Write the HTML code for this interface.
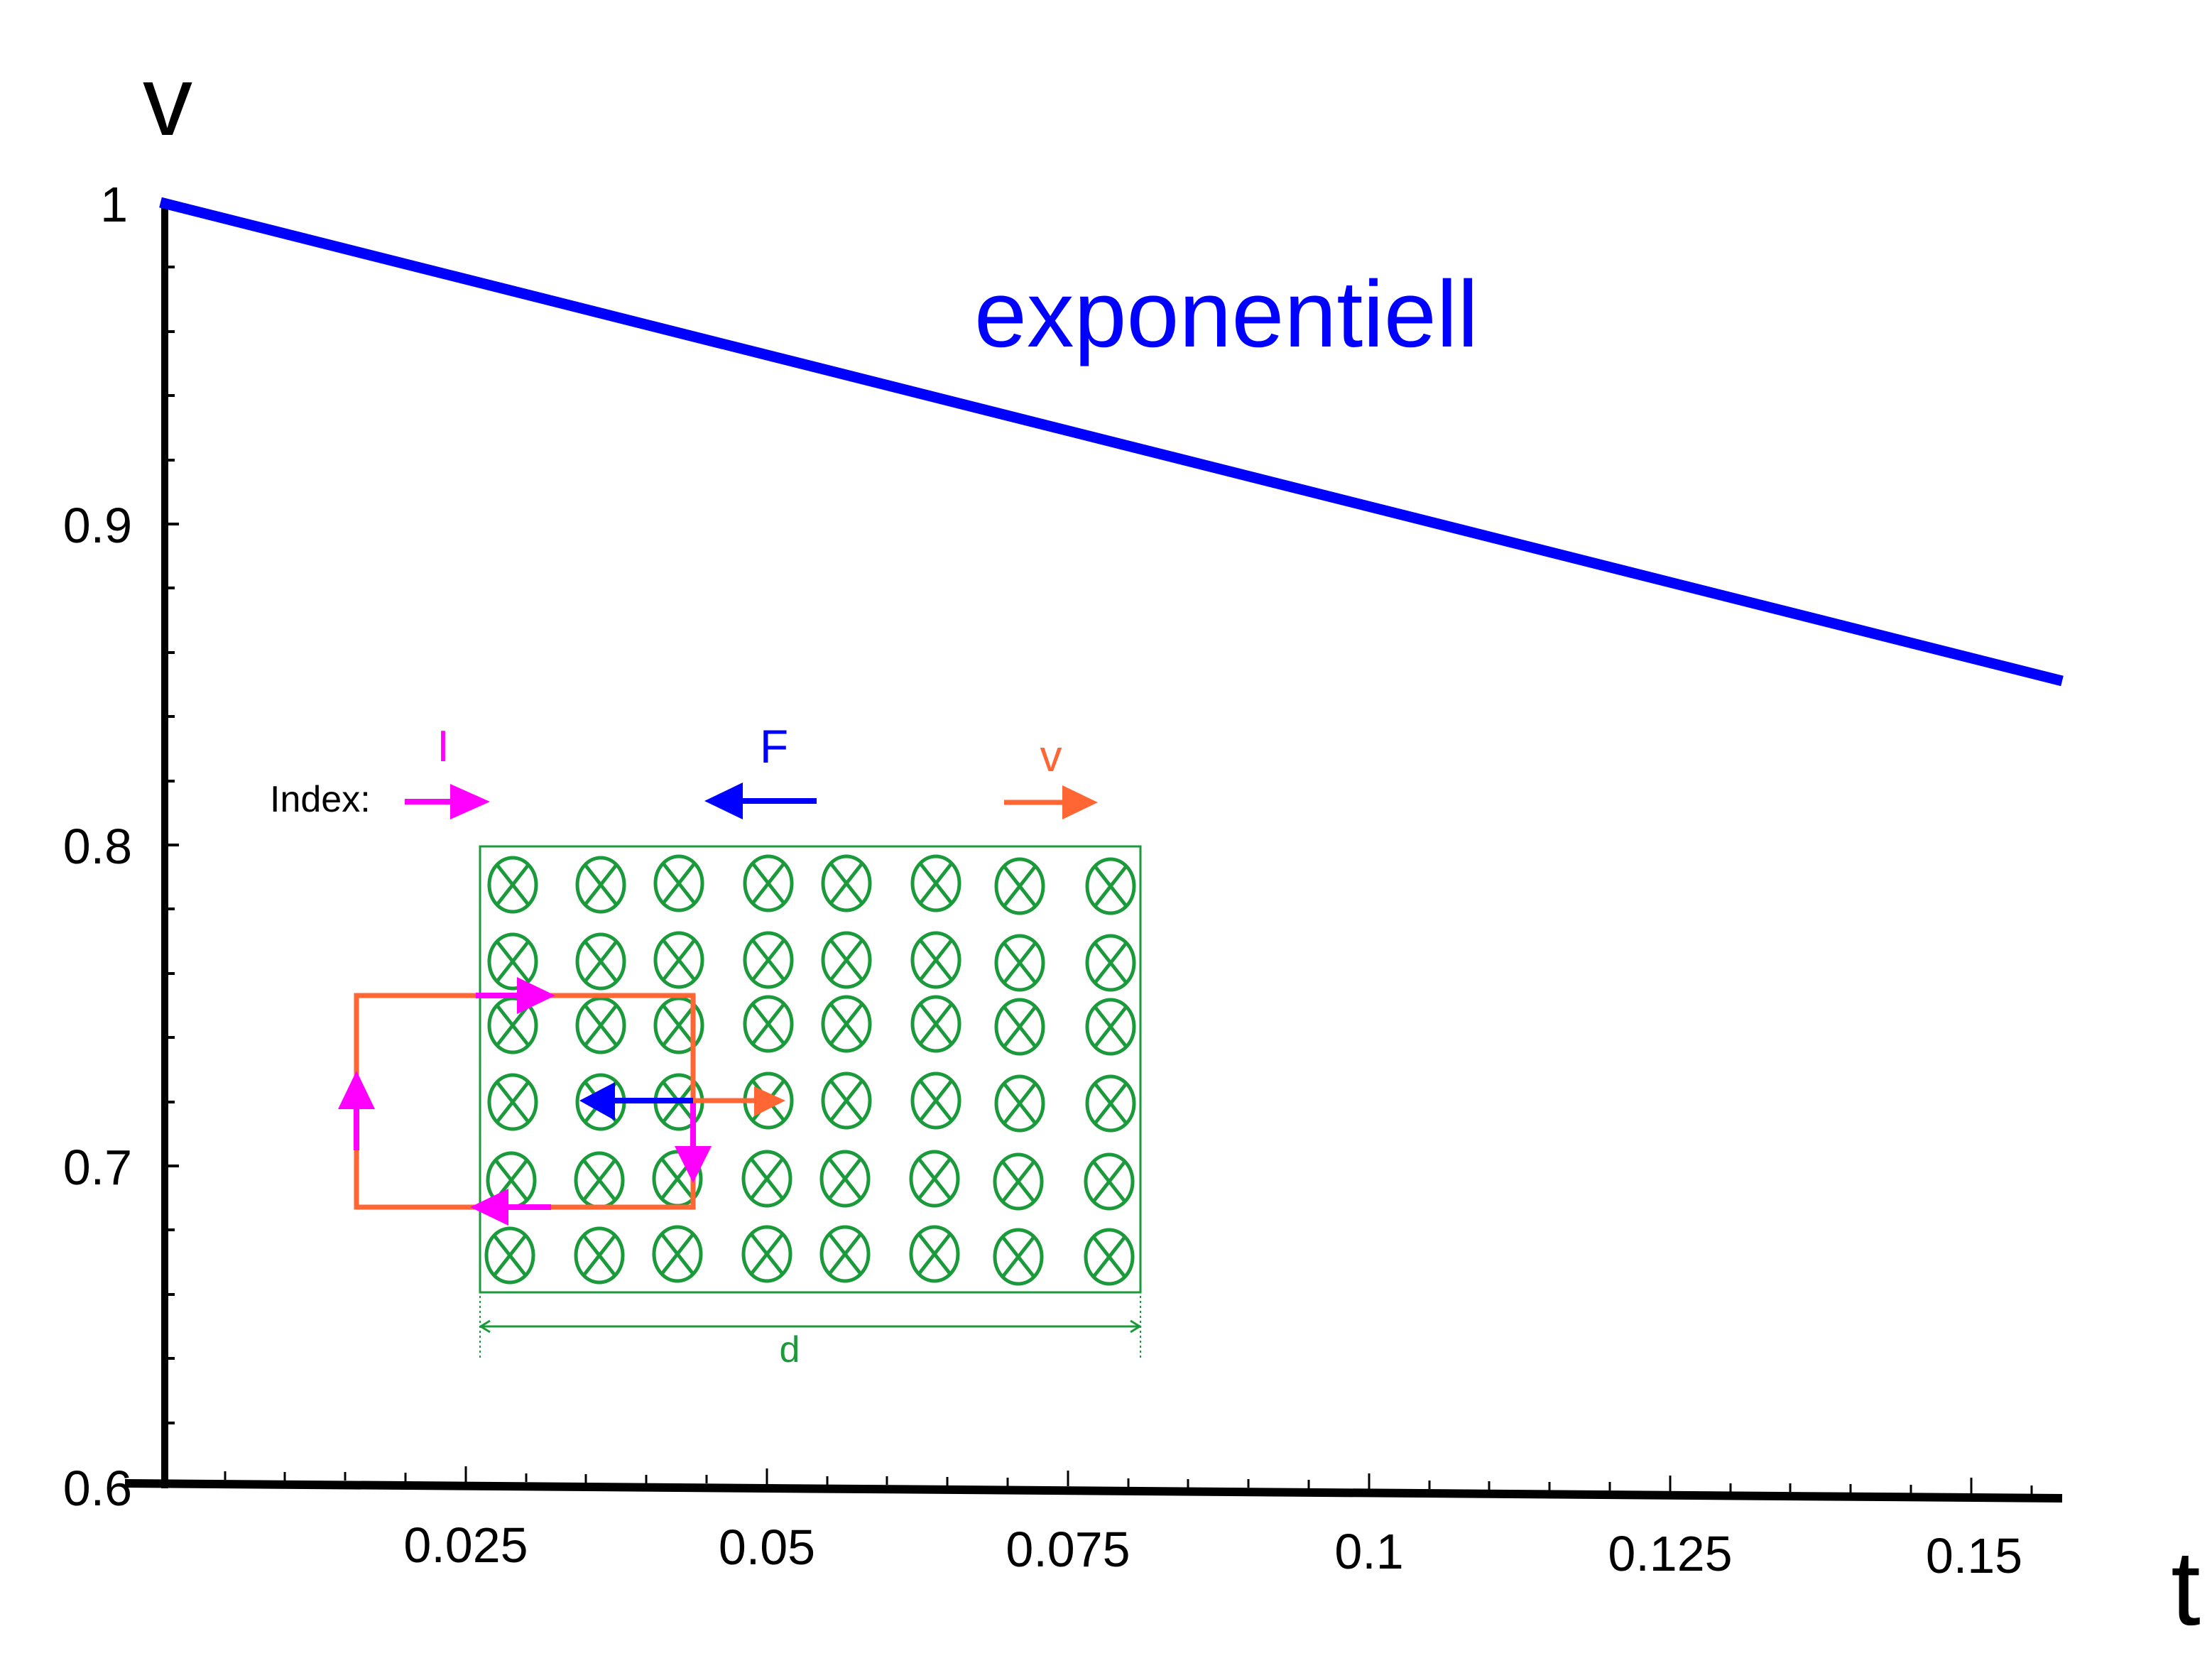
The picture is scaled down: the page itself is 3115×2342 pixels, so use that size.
<!DOCTYPE html>
<html><head><meta charset="utf-8"><style>
html,body{margin:0;padding:0;background:#fff;}
svg{display:block;}
text{font-family:"Liberation Sans",Arial,sans-serif;}
</style></head><body>
<svg width="3115" height="2342" viewBox="0 0 3115 2342" xmlns="http://www.w3.org/2000/svg">
<rect width="3115" height="2342" fill="#fff"/>
<line x1="232" y1="286" x2="232" y2="2096" stroke="#000" stroke-width="10"/>
<g stroke="#000" stroke-width="4">
<line x1="232" y1="376" x2="246" y2="376"/><line x1="232" y1="467" x2="246" y2="467"/><line x1="232" y1="557" x2="246" y2="557"/><line x1="232" y1="648" x2="246" y2="648"/><line x1="232" y1="738" x2="252" y2="738"/>
<line x1="232" y1="828" x2="246" y2="828"/><line x1="232" y1="919" x2="246" y2="919"/><line x1="232" y1="1009" x2="246" y2="1009"/><line x1="232" y1="1100" x2="246" y2="1100"/><line x1="232" y1="1190" x2="252" y2="1190"/>
<line x1="232" y1="1280" x2="246" y2="1280"/><line x1="232" y1="1371" x2="246" y2="1371"/><line x1="232" y1="1461" x2="246" y2="1461"/><line x1="232" y1="1552" x2="246" y2="1552"/><line x1="232" y1="1642" x2="252" y2="1642"/>
<line x1="232" y1="1732" x2="246" y2="1732"/><line x1="232" y1="1823" x2="246" y2="1823"/><line x1="232" y1="1913" x2="246" y2="1913"/><line x1="232" y1="2004" x2="246" y2="2004"/>
</g>
<g font-size="70" text-anchor="end" fill="#000">
<text x="180" y="312">1</text>
<text x="186" y="764">0.9</text>
<text x="186" y="1216">0.8</text>
<text x="186" y="1668">0.7</text>
<text x="186" y="2120">0.6</text>
</g>
<line x1="176" y1="2089" x2="2904" y2="2110" stroke="#000" stroke-width="12"/>
<g stroke="#000" stroke-width="3">
<line x1="317" y1="2084" x2="317" y2="2072"/><line x1="401" y1="2085" x2="401" y2="2073"/><line x1="486" y1="2085" x2="486" y2="2073"/><line x1="571" y1="2086" x2="571" y2="2074"/><line x1="656" y1="2087" x2="656" y2="2065"/>
<line x1="741" y1="2087" x2="741" y2="2075"/><line x1="825" y1="2088" x2="825" y2="2076"/><line x1="910" y1="2089" x2="910" y2="2077"/><line x1="995" y1="2089" x2="995" y2="2077"/><line x1="1080" y1="2090" x2="1080" y2="2068"/>
<line x1="1165" y1="2091" x2="1165" y2="2079"/><line x1="1249" y1="2091" x2="1249" y2="2079"/><line x1="1334" y1="2092" x2="1334" y2="2080"/><line x1="1419" y1="2093" x2="1419" y2="2081"/><line x1="1504" y1="2093" x2="1504" y2="2071"/>
<line x1="1589" y1="2094" x2="1589" y2="2082"/><line x1="1673" y1="2095" x2="1673" y2="2083"/><line x1="1758" y1="2095" x2="1758" y2="2083"/><line x1="1843" y1="2096" x2="1843" y2="2084"/><line x1="1928" y1="2097" x2="1928" y2="2075"/>
<line x1="2013" y1="2097" x2="2013" y2="2085"/><line x1="2097" y1="2098" x2="2097" y2="2086"/><line x1="2182" y1="2099" x2="2182" y2="2087"/><line x1="2267" y1="2099" x2="2267" y2="2087"/><line x1="2352" y1="2100" x2="2352" y2="2078"/>
<line x1="2437" y1="2101" x2="2437" y2="2089"/><line x1="2521" y1="2101" x2="2521" y2="2089"/><line x1="2606" y1="2102" x2="2606" y2="2090"/><line x1="2691" y1="2103" x2="2691" y2="2091"/><line x1="2776" y1="2103" x2="2776" y2="2081"/>
<line x1="2861" y1="2104" x2="2861" y2="2092"/>
</g>
<g font-size="70" text-anchor="middle" fill="#000">
<text x="656" y="2200">0.025</text>
<text x="1080" y="2203">0.05</text>
<text x="1504" y="2206">0.075</text>
<text x="1928" y="2209">0.1</text>
<text x="2352" y="2212">0.125</text>
<text x="2780" y="2215">0.15</text>
</g>
<text x="236" y="190" font-size="140" text-anchor="middle" fill="#000">v</text>
<text x="3078" y="2288" font-size="150" text-anchor="middle" fill="#000">t</text>
<line x1="226" y1="285" x2="2904" y2="959" stroke="#0000ff" stroke-width="15"/>
<text x="1372" y="488" font-size="133" fill="#0000ff">exponentiell</text>
<text x="380" y="1143" font-size="52" fill="#000">Index:</text>
<text x="624" y="1072" font-size="62" fill="#ff00ff" text-anchor="middle">I</text>
<line x1="570" y1="1129" x2="640" y2="1129" stroke="#ff00ff" stroke-width="8"/>
<polygon points="690,1129 634,1104 634,1154" fill="#ff00ff"/>
<text x="1090" y="1074" font-size="66" fill="#0000ff" text-anchor="middle">F</text>
<line x1="1150" y1="1128" x2="1040" y2="1128" stroke="#0000ff" stroke-width="8"/>
<polygon points="992,1128 1046,1102 1046,1154" fill="#0000ff"/>
<text x="1480" y="1086" font-size="62" fill="#ff6633" text-anchor="middle">v</text>
<line x1="1414" y1="1130" x2="1500" y2="1130" stroke="#ff6633" stroke-width="7"/>
<polygon points="1546,1130 1496,1106 1496,1154" fill="#ff6633"/>
<rect x="676" y="1192" width="930" height="628" fill="none" stroke="#1a9a3a" stroke-width="3"/>
<g stroke="#1a9a3a" stroke-width="3" fill="none">
<line x1="676" y1="1868" x2="1606" y2="1868"/>
<polyline points="690,1860 677,1868 690,1876"/>
<polyline points="1592,1860 1605,1868 1592,1876"/>
<line x1="676" y1="1825" x2="676" y2="1912" stroke-dasharray="3,4" stroke-width="2"/>
<line x1="1606" y1="1825" x2="1606" y2="1912" stroke-dasharray="3,4" stroke-width="2"/>
</g>
<text x="1112" y="1918" font-size="52" fill="#1a9a3a" text-anchor="middle">d</text>
<defs>
<g id="c"><ellipse cx="0" cy="0" rx="33" ry="38"/><line x1="-22" y1="-28" x2="22" y2="28"/><line x1="22" y1="-28" x2="-22" y2="28"/></g>
</defs>
<g fill="none" stroke="#1a9a3a" stroke-width="5">
<use href="#c" x="722" y="1246"/><use href="#c" x="846" y="1246"/><use href="#c" x="956" y="1244"/><use href="#c" x="1082" y="1244"/><use href="#c" x="1192" y="1244"/><use href="#c" x="1318" y="1244"/><use href="#c" x="1436" y="1248"/><use href="#c" x="1564" y="1248"/>
<use href="#c" x="722" y="1354"/><use href="#c" x="846" y="1354"/><use href="#c" x="956" y="1352"/><use href="#c" x="1082" y="1352"/><use href="#c" x="1192" y="1352"/><use href="#c" x="1318" y="1352"/><use href="#c" x="1436" y="1356"/><use href="#c" x="1564" y="1356"/>
<use href="#c" x="722" y="1444"/><use href="#c" x="846" y="1444"/><use href="#c" x="956" y="1444"/><use href="#c" x="1082" y="1442"/><use href="#c" x="1192" y="1442"/><use href="#c" x="1318" y="1442"/><use href="#c" x="1436" y="1446"/><use href="#c" x="1564" y="1446"/>
<use href="#c" x="722" y="1552"/><use href="#c" x="846" y="1552"/><use href="#c" x="956" y="1552"/><use href="#c" x="1082" y="1550"/><use href="#c" x="1192" y="1550"/><use href="#c" x="1318" y="1550"/><use href="#c" x="1436" y="1554"/><use href="#c" x="1564" y="1554"/>
<use href="#c" x="720" y="1662"/><use href="#c" x="844" y="1662"/><use href="#c" x="954" y="1660"/><use href="#c" x="1080" y="1660"/><use href="#c" x="1190" y="1660"/><use href="#c" x="1316" y="1660"/><use href="#c" x="1434" y="1664"/><use href="#c" x="1562" y="1664"/>
<use href="#c" x="718" y="1768"/><use href="#c" x="844" y="1768"/><use href="#c" x="954" y="1766"/><use href="#c" x="1080" y="1766"/><use href="#c" x="1190" y="1766"/><use href="#c" x="1316" y="1766"/><use href="#c" x="1434" y="1770"/><use href="#c" x="1562" y="1770"/>
</g>
<rect x="502" y="1402" width="474" height="298" fill="none" stroke="#ff6633" stroke-width="7"/>
<line x1="670" y1="1402" x2="740" y2="1402" stroke="#ff00ff" stroke-width="8"/>
<polygon points="782,1402 728,1376 728,1428" fill="#ff00ff"/>
<line x1="502" y1="1620" x2="502" y2="1560" stroke="#ff00ff" stroke-width="8"/>
<polygon points="502,1508 476,1562 528,1562" fill="#ff00ff"/>
<line x1="776" y1="1700" x2="710" y2="1700" stroke="#ff00ff" stroke-width="8"/>
<polygon points="662,1700 716,1674 716,1726" fill="#ff00ff"/>
<line x1="976" y1="1552" x2="976" y2="1620" stroke="#ff00ff" stroke-width="8"/>
<polygon points="976,1666 950,1614 1002,1614" fill="#ff00ff"/>
<line x1="976" y1="1550" x2="862" y2="1550" stroke="#0000ff" stroke-width="8"/>
<polygon points="816,1550 866,1524 866,1578" fill="#0000ff"/>
<line x1="976" y1="1550" x2="1066" y2="1550" stroke="#ff6633" stroke-width="7"/>
<polygon points="1106,1550 1062,1530 1062,1572" fill="#ff6633"/>
</svg>
</body></html>
